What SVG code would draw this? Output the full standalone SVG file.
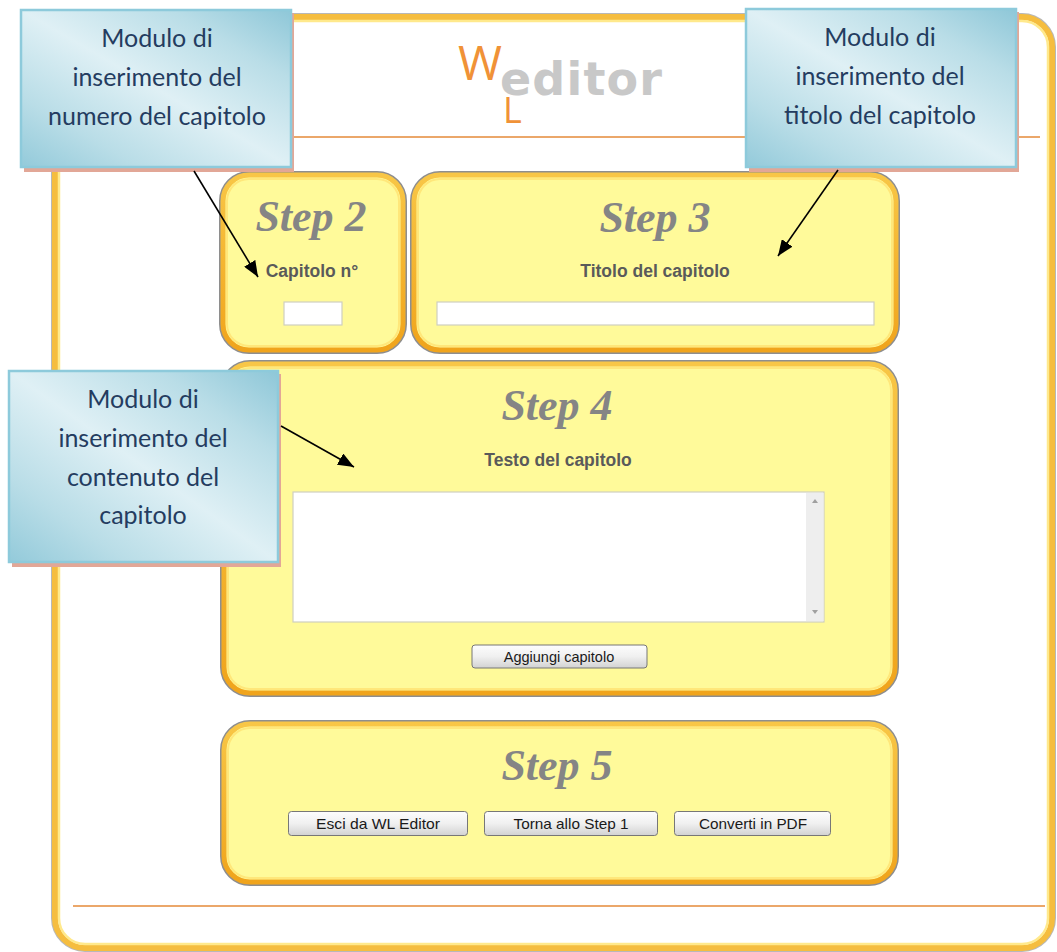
<svg xmlns="http://www.w3.org/2000/svg" width="1057" height="952" viewBox="0 0 1057 952">
<defs>
  <linearGradient id="panelStroke" x1="0" y1="0" x2="0" y2="1">
    <stop offset="0" stop-color="#F8C646"/>
    <stop offset="1" stop-color="#F0A41C"/>
  </linearGradient>
  <linearGradient id="calloutFill" x1="0" y1="1" x2="1" y2="0">
    <stop offset="0" stop-color="#93CADA"/>
    <stop offset="0.22" stop-color="#B9DDE7"/>
    <stop offset="0.5" stop-color="#DFF0F5"/>
    <stop offset="0.78" stop-color="#B9DDE7"/>
    <stop offset="1" stop-color="#8EC7D8"/>
  </linearGradient>
  <linearGradient id="btnFill" x1="0" y1="0" x2="0" y2="1">
    <stop offset="0" stop-color="#FDFDFD"/>
    <stop offset="0.5" stop-color="#F0F0F0"/>
    <stop offset="1" stop-color="#D2D2D2"/>
  </linearGradient>
  <marker id="arrow" markerUnits="userSpaceOnUse" markerWidth="17" markerHeight="13" refX="16" refY="6.5" orient="auto">
    <path d="M0,0 L16,6.5 L0,13 z" fill="#000"/>
  </marker>
  <style>
    .panelShadow { fill: none; stroke: #8E8E8E; stroke-width: 8; }
    .panel { fill: #FFFA9A; stroke: url(#panelStroke); stroke-width: 5; }
    .panelInner { fill: none; stroke: #FFE77A; stroke-width: 2; }
    .step { font-family: "Liberation Serif", serif; font-weight: bold; font-style: italic; font-size: 44px; fill: #858585; text-anchor: middle; }
    .label { font-family: "Liberation Sans", Arial, sans-serif; font-weight: bold; font-size: 17.5px; fill: #5A5A5A; text-anchor: middle; }
    .input { fill: #FFFFFF; stroke: #CFCFC0; stroke-width: 1.2; }
    .btn { fill: url(#btnFill); stroke: #777777; stroke-width: 1; }
    .btnText { font-family: "Liberation Sans", Arial, sans-serif; font-size: 14.5px; fill: #1A1A1A; text-anchor: middle; }
    .callShadow { fill: #E2A797; }
    .callBox { fill: url(#calloutFill); stroke: #8DCADB; stroke-width: 2.5; }
    .callText { font-family: Lato, "Open Sans", sans-serif; font-size: 25px; fill: #243C60; text-anchor: middle; }
    .conn { stroke: #000; stroke-width: 1.6; fill: none; marker-end: url(#arrow); }
    .logoOrange { font-family: "Open Sans", "DejaVu Sans", sans-serif; font-weight: 400; fill: #F09237; }
  </style>
</defs>

<rect width="1057" height="952" fill="#FFFFFF"/>

<g id="frame">
  <rect x="55" y="17" width="997" height="931" rx="30" fill="#FFFFFF" stroke="#B8B8B8" stroke-width="8"/>
  <rect x="55" y="17" width="997" height="931" rx="30" fill="#FFFFFF" stroke="#F5BD3F" stroke-width="6"/>
  <rect x="59" y="21" width="989" height="923" rx="26" fill="none" stroke="#FFE98C" stroke-width="2.5"/>
  <line x1="72" y1="137" x2="1040" y2="137" stroke="#E58A38" stroke-width="1.5"/>
  <line x1="73" y1="906" x2="1045" y2="906" stroke="#E58A38" stroke-width="1.5"/>
</g>

<g id="logo">
  <text class="logoOrange" x="458" y="80" font-size="48" textLength="44" lengthAdjust="spacingAndGlyphs">W</text>
  <text x="500" y="95" font-family="'DejaVu Sans', sans-serif" font-weight="bold" font-size="46" fill="#C8C8C8" textLength="162" lengthAdjust="spacing">editor</text>
  <text class="logoOrange" x="503" y="123" font-size="36">L</text>
</g>

<g id="step2">
  <rect class="panelShadow" x="223" y="175" width="180" height="175" rx="26"/>
  <rect class="panel" x="223" y="175" width="180" height="175" rx="26"/>
  <rect class="panelInner" x="227" y="179" width="172" height="167" rx="22"/>
  <text class="step" x="311" y="231">Step 2</text>
  <text class="label" x="312" y="277">Capitolo n°</text>
  <rect class="input" x="284" y="302" width="58" height="23"/>
</g>

<g id="step3">
  <rect class="panelShadow" x="414" y="175" width="482" height="175" rx="26"/>
  <rect class="panel" x="414" y="175" width="482" height="175" rx="26"/>
  <rect class="panelInner" x="418" y="179" width="474" height="167" rx="22"/>
  <text class="step" x="655" y="232">Step 3</text>
  <text class="label" x="655" y="277">Titolo del capitolo</text>
  <rect class="input" x="437" y="302" width="437" height="23"/>
</g>

<g id="step4">
  <rect class="panelShadow" x="224" y="364" width="671" height="329" rx="26"/>
  <rect class="panel" x="224" y="364" width="671" height="329" rx="26"/>
  <rect class="panelInner" x="228" y="368" width="663" height="321" rx="22"/>
  <text class="step" x="557" y="420">Step 4</text>
  <text class="label" x="558" y="466">Testo del capitolo</text>
  <rect class="input" x="293" y="492" width="531" height="130"/>
  <rect x="806" y="493" width="17.5" height="128" fill="#EEEEEE"/>
  <path d="M812,503 L815,499 L818,503 z" fill="#A0A0A0"/>
  <path d="M812,610 L815,614 L818,610 z" fill="#A0A0A0"/>
  <rect class="btn" x="472" y="645" width="175" height="23" rx="3"/>
  <text class="btnText" x="559" y="662" font-size="15">Aggiungi capitolo</text>
</g>

<g id="step5">
  <rect class="panelShadow" x="224" y="724" width="671" height="158" rx="26"/>
  <rect class="panel" x="224" y="724" width="671" height="158" rx="26"/>
  <rect class="panelInner" x="228" y="728" width="663" height="150" rx="22"/>
  <text class="step" x="557" y="780">Step 5</text>
  <rect class="btn" x="288.5" y="811.5" width="179" height="24" rx="3"/>
  <text class="btnText" x="378" y="829" textLength="124" lengthAdjust="spacingAndGlyphs">Esci da WL Editor</text>
  <rect class="btn" x="484.5" y="811.5" width="173" height="24" rx="3"/>
  <text class="btnText" x="571" y="829" textLength="115" lengthAdjust="spacingAndGlyphs">Torna allo Step 1</text>
  <rect class="btn" x="674.5" y="811.5" width="156" height="24" rx="3"/>
  <text class="btnText" x="753" y="829" textLength="108" lengthAdjust="spacingAndGlyphs">Converti in PDF</text>
</g>

<g id="callout-numero">
  <rect class="callShadow" x="24" y="13" width="270" height="159"/>
  <rect class="callBox" x="21" y="10" width="270" height="157"/>
  <text class="callText" x="157" y="47">Modulo di</text>
  <text class="callText" x="157" y="86">inserimento del</text>
  <text class="callText" x="157" y="125">numero del capitolo</text>
</g>

<g id="callout-titolo">
  <rect class="callShadow" x="749" y="12" width="270" height="160"/>
  <rect class="callBox" x="746" y="9" width="270" height="158"/>
  <text class="callText" x="880" y="46">Modulo di</text>
  <text class="callText" x="880" y="85">inserimento del</text>
  <text class="callText" x="880" y="124">titolo del capitolo</text>
</g>

<g id="callout-contenuto">
  <rect class="callShadow" x="12" y="374" width="269" height="193"/>
  <rect class="callBox" x="9" y="371" width="269" height="191"/>
  <text class="callText" x="143" y="408">Modulo di</text>
  <text class="callText" x="143" y="447">inserimento del</text>
  <text class="callText" x="143" y="486">contenuto del</text>
  <text class="callText" x="143" y="524">capitolo</text>
</g>

<g id="connectors">
  <line class="conn" x1="194" y1="171" x2="258" y2="277"/>
  <line class="conn" x1="838" y1="170" x2="778" y2="256"/>
  <line class="conn" x1="281" y1="426" x2="354" y2="467"/>
</g>
</svg>
